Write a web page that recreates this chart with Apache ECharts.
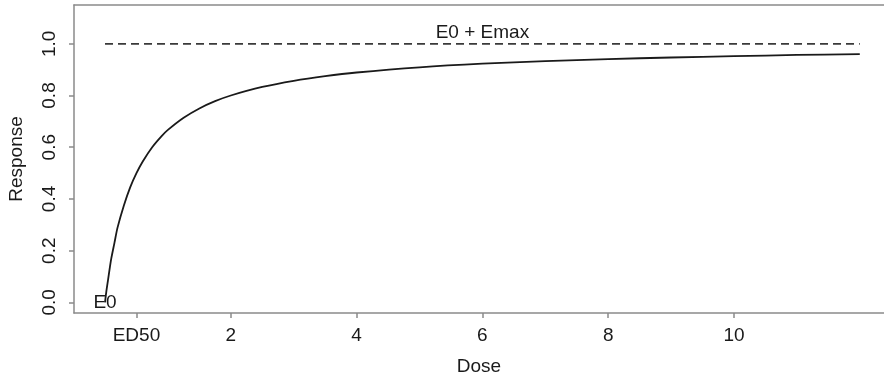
<!DOCTYPE html>
<html>
<head>
<meta charset="utf-8">
<script src="https://cdn.jsdelivr.net/npm/echarts@6/dist/echarts.min.js"></script>
<style>html,body{margin:0;padding:0;background:#fff}#c{width:884px;height:379px}</style>
</head>
<body>
<div id="c"></div>
<script>
// Values
var doses =     [0, 0.02, 0.05, 0.08, 0.1, 0.15, 0.2, 0.3, 0.4, 0.5, 0.6, 0.75, 0.9, 1, 1.25, 1.5, 1.75, 2, 2.5, 3, 3.5, 4, 5, 6, 7, 8, 9, 10, 11, 12];
var responses = [0, 0.04, 0.09, 0.14, 0.17, 0.23, 0.29, 0.375, 0.445, 0.50, 0.545, 0.60, 0.643, 0.667, 0.714, 0.75, 0.778, 0.80, 0.833, 0.857, 0.875, 0.889, 0.909, 0.923, 0.933, 0.941, 0.947, 0.952, 0.957, 0.96];
var plateau = [[0, 1], [12, 1]];
var xTicks = [0.5, 2, 4, 6, 8, 10];
var xTickLabels = {0.5: 'ED50', 2: '2', 4: '4', 6: '6', 8: '8', 10: '10'};
var yTicks = [0, 0.2, 0.4, 0.6, 0.8, 1.0];
var notes = [{x: 6, y: 1, text: 'E0 + Emax', pos: 'top'}, {x: 0, y: 0, text: 'E0', pos: 'inside'}];

var font = 'Liberation Sans, Arial, sans-serif';
var txt = '#1a1a1a';
var frame = '#8a8a8a';
var fs = 19;
var xMin = -0.493, xMax = 12.385;
var chart = echarts.init(document.getElementById('c'), null, {renderer: 'canvas'});
chart.setOption({
  animation: false,
  grid: {left: 74, right: 0, top: 5, bottom: 66, show: false, containLabel: false, outerBoundsMode: 'none'},
  xAxis: [{
    type: 'value', min: xMin, max: xMax, position: 'bottom',
    name: 'Dose', nameLocation: 'middle', nameGap: 44,
    nameTextStyle: {fontFamily: font, fontSize: fs, color: txt},
    axisLine: {show: true, onZero: false, lineStyle: {color: frame, width: 1.5}},
    splitLine: {show: false},
    axisTick: {show: true, inside: false, length: 5, lineStyle: {color: frame, width: 1.5}, customValues: xTicks},
    axisLabel: {customValues: xTicks, fontFamily: font, fontSize: fs, color: txt, margin: 13,
      formatter: function (v) { return xTickLabels[v] !== undefined ? xTickLabels[v] : String(v); }}
  }, {
    type: 'value', min: xMin, max: xMax, position: 'top',
    axisLine: {show: true, onZero: false, lineStyle: {color: frame, width: 1.5}},
    axisTick: {show: false}, axisLabel: {show: false}, splitLine: {show: false}
  }],
  yAxis: {
    type: 'value', min: -0.041, max: 1.15,
    name: 'Response', nameLocation: 'middle', nameGap: 48,
    nameTextStyle: {fontFamily: font, fontSize: fs, color: txt},
    axisLine: {show: true, onZero: false, lineStyle: {color: frame, width: 1.5}},
    splitLine: {show: false},
    axisTick: {show: true, inside: false, length: 5, lineStyle: {color: frame, width: 1.5}, customValues: yTicks},
    axisLabel: {customValues: yTicks, rotate: 90, fontFamily: font, fontSize: fs, color: txt, margin: 15,
      formatter: function (v) { return v.toFixed(1); }}
  },
  series: [
    {
      type: 'line', data: plateau, symbol: 'none', silent: true,
      lineStyle: {color: '#3a3a3a', width: 1.8, type: [8, 5]}
    },
    {
      type: 'line', data: doses.map(function (d, i) { return [d, responses[i]]; }),
      symbol: 'none', smooth: 0.3, silent: true,
      lineStyle: {color: '#1a1a1a', width: 1.8}
    },
    {
      type: 'scatter', symbolSize: 0, silent: true,
      itemStyle: {color: txt, opacity: 1},
      data: notes.map(function (n) {
        return {value: [n.x, n.y], label: {show: true, formatter: n.text, position: n.pos, distance: 2,
          fontFamily: font, fontSize: fs, color: txt, opacity: 1}};
      })
    }
  ]
});
</script>
</body>
</html>
